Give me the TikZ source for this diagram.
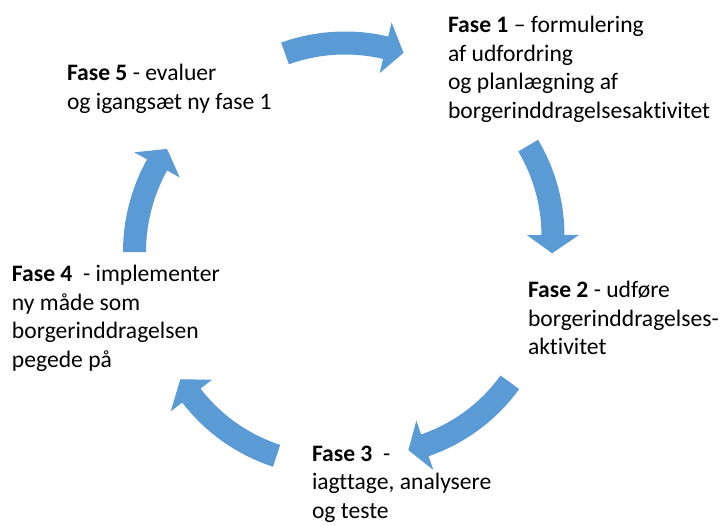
\documentclass[tikz,border=0pt]{standalone}
\usepackage{fontspec}
\setmainfont{Carlito}[Ligatures={TeX,NoCommon}]
\definecolor{arrowblue}{HTML}{5B9BD5}
\tikzset{
  phase/.style={anchor=base west, inner sep=0pt, outer sep=0pt,
    font=\fontsize{23.6}{28.5}\selectfont, text=black},
  arrowshape/.style={fill=arrowblue, draw=none}
}
% #1 centre coordinate, #2 radius, #3 tail angle, #4 head-base angle, #5 tip angle
\newcommand{\blockarc}[5]{%
  \fill[arrowshape, shift={(#1)}]
    ({#3}:{#2+11.5}) arc[start angle={#3}, end angle={#4}, radius={#2+11.5}]
    -- ({#4}:{#2+26}) -- ({#5}:{#2}) -- ({#4}:{#2-26})
    -- ({#4}:{#2-11.5}) arc[start angle={#4}, end angle={#3}, radius={#2-11.5}]
    -- cycle;}
\begin{document}
\begin{tikzpicture}[x=1pt, y=1pt]
  \useasboundingbox (0,0) rectangle (720,525);
  \fill[white] (0,0) rectangle (720,525);

  % phase texts
  \node[phase] (f1) at (448,492) {\begin{tabular}[t]{@{}l@{}}\textbf{Fase 1} – formulering\\ af udfordring\\ og planlægning af\\ borgerinddragelsesaktivitet\end{tabular}};
  \node[phase] (f2) at (528,227) {\begin{tabular}[t]{@{}l@{}}\textbf{Fase 2} - udføre\\ borgerinddragelses-\\ aktivitet\end{tabular}};
  \node[phase] (f3) at (312,64) {\begin{tabular}[t]{@{}l@{}}\textbf{Fase 3\ }\ -\\ iagttage, analysere\\ og teste\end{tabular}};
  \node[phase] (f4) at (12,243) {\begin{tabular}[t]{@{}l@{}}\textbf{Fase 4\ }\ - implementer\\ ny måde som\\ borgerinddragelsen\\ pegede på\end{tabular}};
  \node[phase] (f5) at (67,444) {\begin{tabular}[t]{@{}l@{}}\textbf{Fase 5} - evaluer\\ og igangsæt ny fase 1\end{tabular}};

  % arc centres of the curved block arrows
  \coordinate (c51) at (345,304);
  \coordinate (c12) at (376,289);
  \coordinate (c23) at (367.7,245.6);
  \coordinate (c34) at (331,236.6);
  \coordinate (c45) at (314.5,272.8);

  \blockarc{c51}{178}{109.7}{76.8}{70.8}
  \blockarc{c12}{177}{30.7}{0.3}{-5.6}
  \blockarc{c23}{175.5}{-35.9}{-71}{-76.6}
  \blockarc{c34}{176}{-108}{-142.5}{-148.9}
  \blockarc{c45}{180}{180}{151}{145}
\end{tikzpicture}
\end{document}
